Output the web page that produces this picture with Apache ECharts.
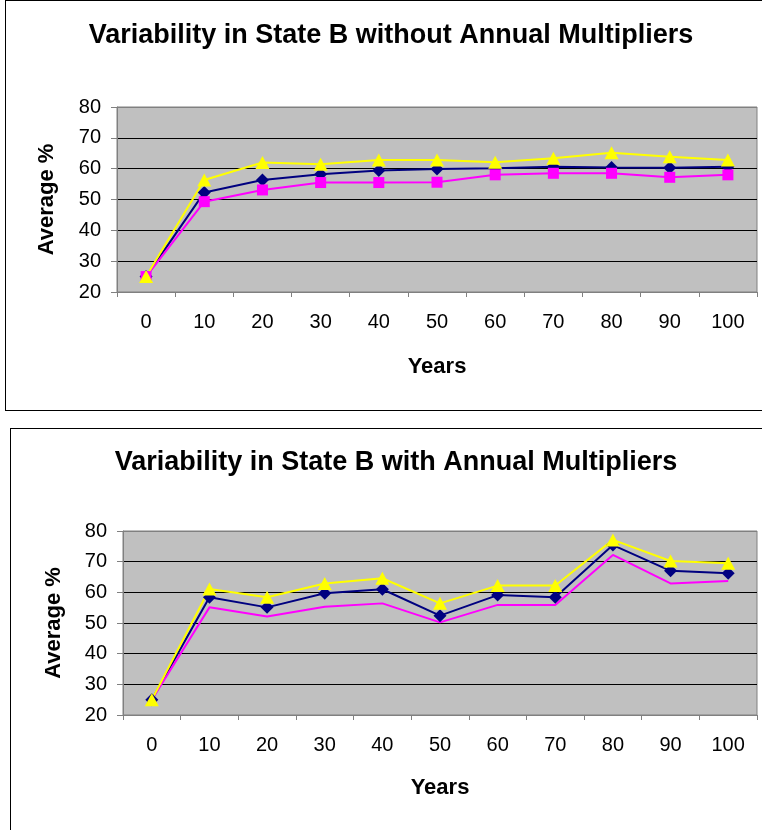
<!DOCTYPE html>
<html>
<head>
<meta charset="utf-8">
<script src="https://cdn.jsdelivr.net/npm/echarts@6/dist/echarts.min.js"></script>
<style>
    body { margin: 0; background: #fff; overflow: hidden; }
    .box { position: absolute; border: 1px solid #000; background: #fff; }
    #chartTop { left: 5px; top: 0; width: 770px; height: 409px; }
    #chartBottom { left: 10px; top: 428px; width: 770px; height: 420px; }
</style>
</head>
<body>
<div id="chartTop" class="box"></div>
<div id="chartBottom" class="box"></div>
<script>
    // x categories
    var years = ['0', '10', '20', '30', '40', '50', '60', '70', '80', '90', '100'];
    var yTicks = [20, 30, 40, 50, 60, 70, 80];

    // without annual multipliers
    var topNavy = [25, 52.3, 56.3, 58.2, 59.4, 59.9, 60.1, 60.6, 60.4, 60.3, 60.6];
    var topMagenta = [25, 49.3, 53.1, 55.5, 55.5, 55.6, 58.0, 58.5, 58.5, 57.2, 58.0];
    var topYellow = [25, 56.3, 62.0, 61.4, 62.8, 62.8, 62.1, 63.4, 65.2, 63.9, 62.8];

    // with annual multipliers
    var botNavy = [25, 58.4, 55.1, 59.7, 61.0, 52.4, 59.1, 58.4, 75.4, 67.0, 66.2];
    var botMagenta = [25, 55.1, 52.1, 55.3, 56.4, 50.2, 55.9, 55.9, 72.2, 62.9, 63.7];
    var botYellow = [25, 61.1, 58.4, 62.9, 64.6, 56.4, 62.2, 62.2, 77.1, 70.2, 69.5];

    var font = '"Liberation Sans", Arial, sans-serif';

    function makeOption(title, titleTop, grid, navy, magenta, yellow, magentaMarks) {
        return {
            animation: false,
            textStyle: { fontFamily: font },
            title: {
                text: title,
                left: 'center',
                top: titleTop,
                textStyle: { fontFamily: font, fontSize: 27, fontWeight: 'bold', color: '#000' }
            },
            grid: {
                left: grid.left, right: grid.right, top: grid.top, height: grid.height,
                show: true,
                backgroundColor: '#C0C0C0',
                borderColor: '#808080',
                borderWidth: 1
            },
            xAxis: {
                type: 'category',
                data: years,
                boundaryGap: true,
                name: 'Years',
                nameLocation: 'middle',
                nameGap: grid.xNameGap,
                nameTextStyle: { fontFamily: font, fontSize: 22, fontWeight: 'bold', color: '#000' },
                axisLine: { lineStyle: { color: '#808080', width: 1 } },
                axisTick: { show: true, inside: false, length: 5, lineStyle: { color: '#808080' } },
                axisLabel: { margin: 20, fontSize: 20, color: '#000', fontFamily: font, interval: 0 }
            },
            yAxis: {
                type: 'value',
                min: yTicks[0],
                max: yTicks[yTicks.length - 1],
                interval: 10,
                name: 'Average %',
                nameLocation: 'middle',
                nameGap: grid.yNameGap,
                nameTextStyle: { fontFamily: font, fontSize: 22, fontWeight: 'bold', color: '#000' },
                axisLine: { show: true, lineStyle: { color: '#808080', width: 1 } },
                axisTick: { show: true, inside: false, length: 6, lineStyle: { color: '#808080' } },
                axisLabel: { margin: 16, fontSize: 20, color: '#000', fontFamily: font },
                splitLine: {
                    show: true,
                    lineStyle: {
                        color: ['#808080', '#000', '#000', '#000', '#000', '#000', '#808080'],
                        width: 1
                    }
                }
            },
            series: [
                {
                    name: 'navy',
                    type: 'line',
                    data: navy,
                    symbol: 'diamond',
                    symbolSize: [13, 13],
                    color: '#000080',
                    lineStyle: { color: '#000080', width: 2 },
                    itemStyle: { color: '#000080' }
                },
                {
                    name: 'magenta',
                    type: 'line',
                    data: magenta,
                    symbol: magentaMarks ? 'rect' : 'none',
                    symbolSize: [11, 11],
                    color: '#FF00FF',
                    lineStyle: { color: '#FF00FF', width: 2 },
                    itemStyle: { color: '#FF00FF' }
                },
                {
                    name: 'yellow',
                    type: 'line',
                    data: yellow,
                    symbol: 'triangle',
                    symbolSize: [14, 13],
                    color: '#FFFF00',
                    lineStyle: { color: '#FFFF00', width: 2 },
                    itemStyle: { color: '#FFFF00' }
                }
            ]
        };
    }

    var chartTop = echarts.init(document.getElementById('chartTop'));
    chartTop.setOption(makeOption('Variability in State B without Annual Multipliers', 16,
        { left: 111, right: 19, top: 106, height: 185, xNameGap: 64, yNameGap: 59 },
        topNavy, topMagenta, topYellow, true));

    var chartBottom = echarts.init(document.getElementById('chartBottom'));
    chartBottom.setOption(makeOption('Variability in State B with Annual Multipliers', 15,
        { left: 112, right: 24, top: 102, height: 184, xNameGap: 62, yNameGap: 58 },
        botNavy, botMagenta, botYellow, false));
</script>
</body>
</html>
